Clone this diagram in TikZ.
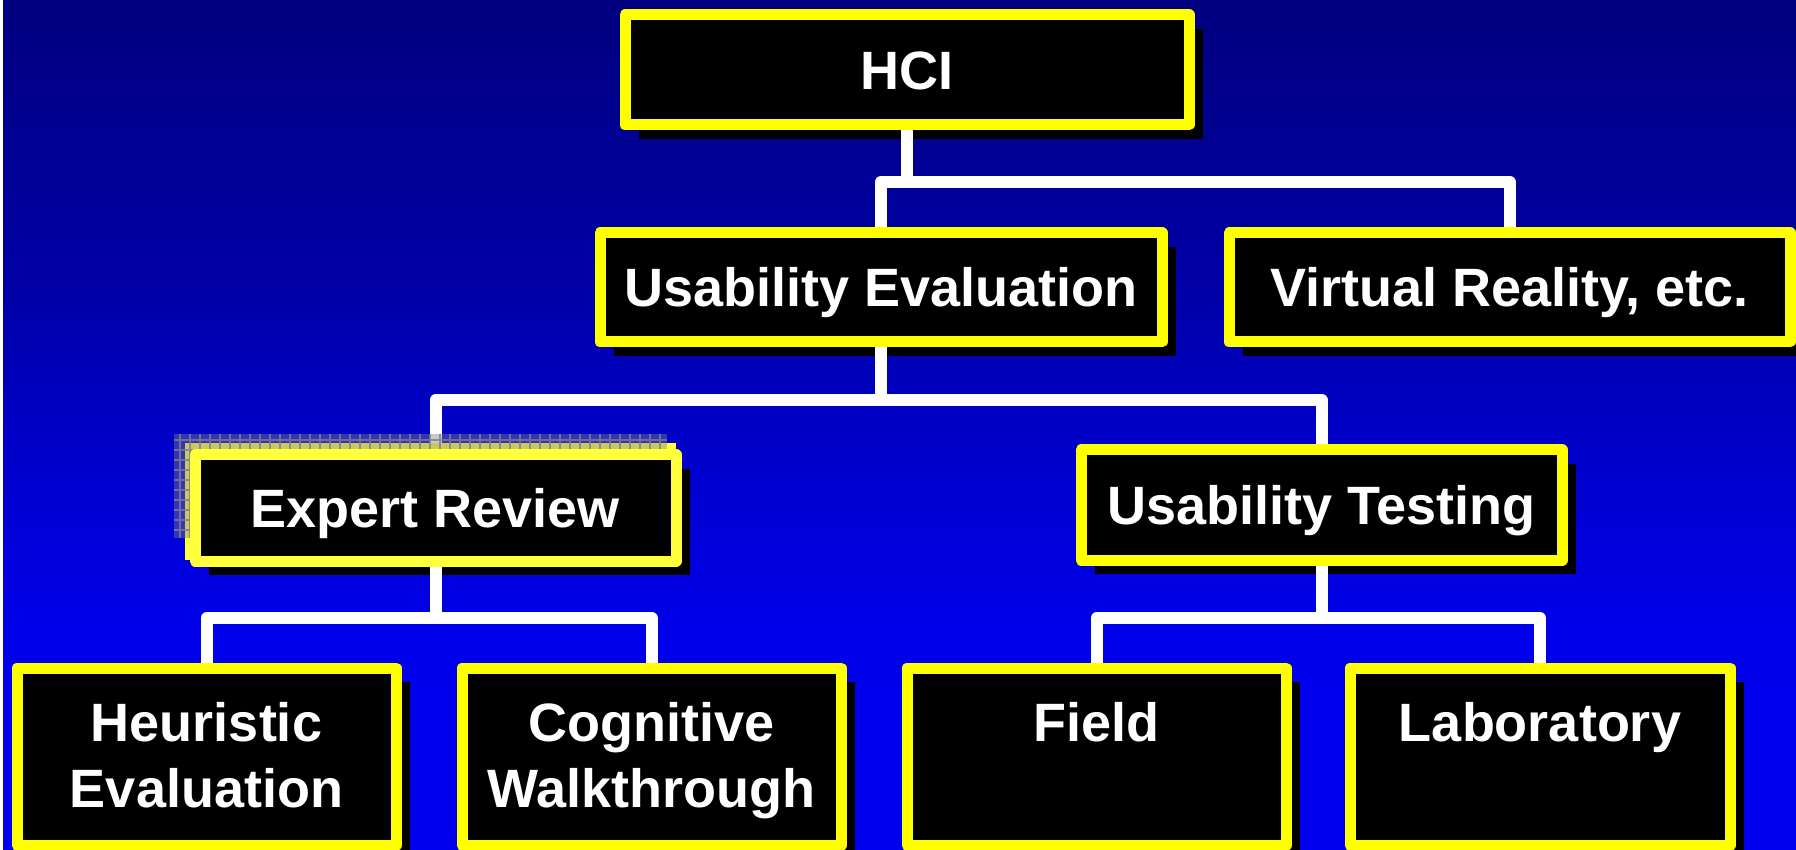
\documentclass[tikz,border=0pt]{standalone}
\usepackage{fontspec}
\setmainfont{Liberation Sans}
\usetikzlibrary{shadows}
\newcommand\cardfont{\fontsize{27}{33}\selectfont\bfseries}
\definecolor{cardyellow}{RGB}{255,255,0}
\definecolor{selyellow}{RGB}{255,255,60}
\definecolor{ghostgray}{RGB}{128,128,140}
\definecolor{ghostline}{RGB}{125,125,150}
\pgfdeclarelayer{conn}
\pgfdeclarelayer{ovl}
\pgfdeclarelayer{front}
\pgfsetlayers{main,conn,ovl,front}
% slide background: navy at the top, bright blue at the bottom
\pgfdeclareverticalshading{slidebg}{100bp}{%
  rgb(0bp)=(0,0,0.94); rgb(25bp)=(0,0,0.94); rgb(37.35bp)=(0,0,0.92);
  rgb(49.7bp)=(0,0,0.78); rgb(57.35bp)=(0,0,0.66); rgb(75bp)=(0,0,0.50);
  rgb(100bp)=(0,0,0.50)}
\begin{document}
\begin{tikzpicture}[x=0.5pt,y=0.5pt,
  card/.style={draw=cardyellow, fill=black, line width=5.5pt, line join=round,
    inner sep=0pt, outer sep=2.75pt, text=white, font=\cardfont,
    text height=19.3pt, text depth=0pt,
    drop shadow={shadow xshift=7pt, shadow yshift=-7pt, fill=black, opacity=1}},
  link/.style={draw=white, line width=6pt, line join=round},
  lbl/.style={text=white, font=\cardfont, align=center, inner sep=0pt, anchor=base}]

\useasboundingbox (0,0) rectangle (1796,-850);
\shade[shading=slidebg] (0,0) rectangle (1796,-850);
\fill[white] (0,0) rectangle (3,-850);

% cards
\node[card, minimum width=282pt, minimum height=55pt] (hci) at (907,-70) {HCI};
\node[card, minimum width=281pt, minimum height=54.5pt] (ue) at (881,-287.5) {Usability Evaluation};
\node[card, minimum width=280.5pt, minimum height=54.5pt] (vr) at (1509.5,-287.5) {Virtual Reality, etc.};
\node[card, minimum width=240.5pt, minimum height=55pt] (ut) at (1321.5,-505) {Usability Testing};
\node[card, minimum width=189.5pt, minimum height=88.5pt] (he) at (206.5,-756.5) {};
\node[card, minimum width=189.5pt, minimum height=88.5pt] (cw) at (651.5,-756.5) {};
\node[card, minimum width=189.5pt, minimum height=88.5pt] (fi) at (1096.5,-756.5) {};
\node[card, minimum width=190pt, minimum height=88.5pt] (la) at (1540,-756.5) {};
\begin{pgfonlayer}{front}
\node[card, draw=selyellow, minimum width=240.5pt, minimum height=53pt] (er) at (435.5,-508) {Expert Review};
\end{pgfonlayer}

% labels of the bottom cards (base anchor sits on the last line)
\node[lbl] (he-t) at (206.5,-807.5) {Heuristic\\Evaluation};
\node[lbl] (cw-t) at (651.5,-807.5) {Cognitive\\Walkthrough};
\node[lbl] (fi-t) at (1096.5,-741.5) {Field};
\node[lbl] (la-t) at (1540,-741.5) {Laboratory};

% levels of the connector bars
\coordinate (bar1) at (0,-182);
\coordinate (bar2) at (0,-400);
\coordinate (bar3) at (0,-618);

\begin{pgfonlayer}{conn}
\draw[link] (hci.south) -- (hci.south |- bar1);
\draw[link] (ue.north) -- (ue.north |- bar1) -- (vr.north |- bar1) -- (vr.north);
\draw[link] (ue.south) -- (ue.south |- bar2);
\draw[link] (er.north) -- (er.north |- bar2) -- (ut.north |- bar2) -- (ut.north);
\draw[link] (ut.south) -- (ut.south |- bar3);
\draw[link] (fi.north) -- (fi.north |- bar3) -- (la.north |- bar3) -- (la.north);
\end{pgfonlayer}

% selection ghost behind the Expert Review card
\begin{pgfonlayer}{ovl}
\fill[selyellow] (185,-443) rectangle (676,-560);
\fill[ghostgray, opacity=0.42] (174,-434) rectangle (667,-538);
\draw[ghostline, opacity=0.8, line width=0.6pt, step=10] (174,-434) grid (667,-538);
\end{pgfonlayer}

\begin{pgfonlayer}{front}
\draw[link] (er.south) -- (er.south |- bar3);
\draw[link] (he.north) -- (he.north |- bar3) -- (cw.north |- bar3) -- (cw.north);
\end{pgfonlayer}
\end{tikzpicture}
\end{document}
